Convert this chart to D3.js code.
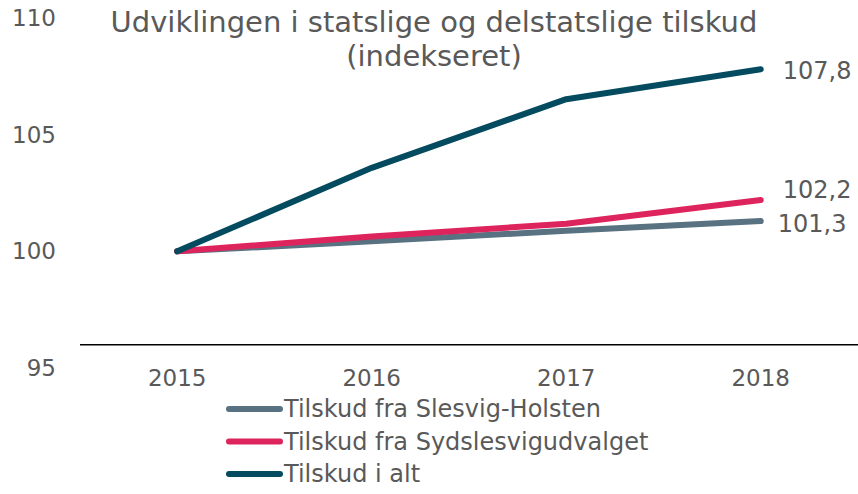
<!DOCTYPE html>
<meta charset="utf-8">
<style>
  body { margin: 0; background: #fff; }
  svg text { font-family: "DejaVu Sans", Verdana, sans-serif; fill: #595959; }
</style>
<body>
<script src="https://d3js.org/d3.v7.min.js"></script>
<script>

var years = ["2015", "2016", "2017", "2018"];
var yTicks = [95, 100, 105, 110];
var slesvigHolsten = [100, 100.43, 100.88, 101.3];
var sydslesvigudvalget = [100, 100.64, 101.18, 102.2];
var tilskudIAlt = [100, 103.58, 106.52, 107.8];
var seriesNames = ["Tilskud fra Slesvig-Holsten", "Tilskud fra Sydslesvigudvalget", "Tilskud i alt"];
var endLabels = ["101,3", "102,2", "107,8"];
var titleLines = ["Udviklingen i statslige og delstatslige tilskud", "(indekseret)"];
var axisCross = 96;

var colors = ["#587282", "#de245c", "#044b60"];
var series = [slesvigHolsten, sydslesvigudvalget, tilskudIAlt];

var width = 858, height = 494;

var svg = d3.select("body").append("svg")
    .attr("width", width)
    .attr("height", height);

var x = d3.scaleBand()
    .domain(years)
    .range([80, 858]);

var y = d3.scaleLinear()
    .domain([95, 110])
    .range([368, 18]);

// y labels (no axis line)
svg.append("g")
  .selectAll("text")
  .data(yTicks)
  .join("text")
    .attr("x", 56)
    .attr("y", function(d) { return y(d); })
    .attr("dy", "0.35em")
    .attr("text-anchor", "end")
    .style("font-size", "23px")
    .text(function(d) { return d; });

// horizontal axis line
svg.append("line")
    .attr("x1", x.range()[0])
    .attr("x2", x.range()[1])
    .attr("y1", y(axisCross))
    .attr("y2", y(axisCross))
    .style("stroke", "#000")
    .style("stroke-width", 1.5);

svg.append("g")
  .selectAll("text")
  .data(years)
  .join("text")
    .attr("x", function(d) { return x(d) + x.bandwidth() / 2; })
    .attr("y", 386)
    .attr("text-anchor", "middle")
    .style("font-size", "23px")
    .text(function(d) { return d; });

var line = d3.line()
    .x(function(d, i) { return x(years[i]) + x.bandwidth() / 2; })
    .y(function(d) { return y(d); });

svg.append("g")
  .selectAll("path")
  .data(series)
  .join("path")
    .attr("d", line)
    .style("fill", "none")
    .style("stroke", function(d, i) { return colors[i]; })
    .style("stroke-width", 6)
    .style("stroke-linecap", "round")
    .style("stroke-linejoin", "round");

// end labels
var labelDx = [17, 22, 22];
var labelDy = [3, -10, 1];
svg.append("g")
  .selectAll("text")
  .data(series)
  .join("text")
    .attr("x", function(d, i) { return x(years[3]) + x.bandwidth() / 2 + labelDx[i]; })
    .attr("y", function(d, i) { return y(d[3]) + labelDy[i]; })
    .attr("dy", "0.35em")
    .style("font-size", "24px")
    .text(function(d, i) { return endLabels[i]; });

// title
svg.append("g")
  .selectAll("text")
  .data(titleLines)
  .join("text")
    .attr("x", 434)
    .attr("y", function(d, i) { return 32 + i * 34; })
    .attr("text-anchor", "middle")
    .style("font-size", "29px")
    .text(function(d) { return d; });

// legend
var legend = svg.append("g")
  .selectAll("g")
  .data(seriesNames)
  .join("g")
    .attr("transform", function(d, i) { return "translate(229," + (409 + i * 32.5) + ")"; });

legend.append("line")
    .attr("x1", 0)
    .attr("x2", 51)
    .style("stroke", function(d, i) { return colors[i]; })
    .style("stroke-width", 6)
    .style("stroke-linecap", "round");

legend.append("text")
    .attr("x", 55)
    .attr("dy", "0.35em")
    .style("font-size", "24px")
    .text(function(d) { return d; });

</script>
